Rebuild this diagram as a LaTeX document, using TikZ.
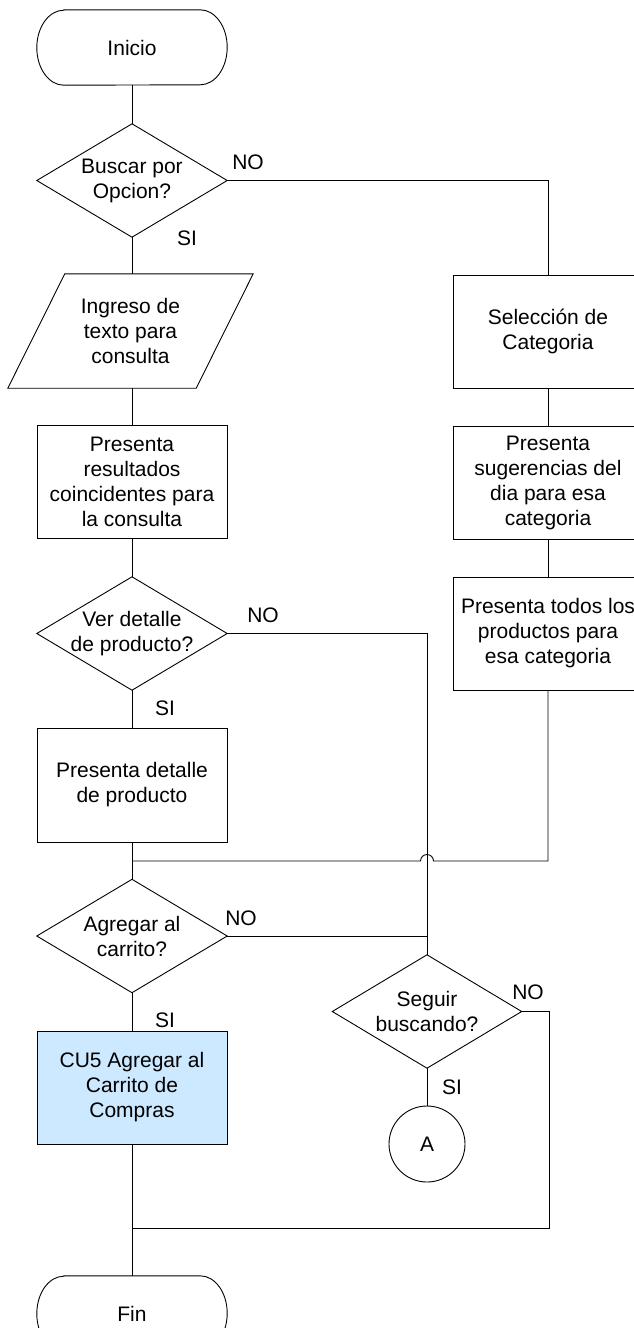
\documentclass[tikz,border=0pt]{standalone}
\usepackage{fontspec}
\setmainfont{Liberation Sans}
\definecolor{cublue}{RGB}{204,233,255}
\begin{document}
\begin{tikzpicture}[x=1pt,y=-1pt,
  every node/.style={font=\fontsize{21}{25}\selectfont},
  proc/.style={draw, line width=0.9pt, minimum width=190pt, minimum height=113pt, inner sep=2pt, align=center},
  decis/.style={minimum width=190pt, minimum height=113pt, inner sep=0pt, align=center},
  term/.style={minimum width=190pt, minimum height=75pt, inner sep=0pt},
  lab/.style={inner sep=0pt},
  line/.style={draw, line width=0.9pt}
]
\useasboundingbox (0,0) rectangle (633,1328);

% left column
\node[term] (ini) at (132,47.5) {Inicio};
\node[decis] (d1) at (132,180.5) {Buscar por\\Opcion?};
\node[decis, minimum width=245pt, minimum height=114pt] (ing) at (130.5,331) {Ingreso de\\texto para\\consulta};
\node[proc] (res) at (132,482) {Presenta\\resultados\\coincidentes para\\la consulta};
\node[decis] (d2) at (132,633.5) {Ver detalle\\de producto?};
\node[proc, minimum height=114pt] (det) at (132,785) {Presenta detalle\\de producto};
\node[decis] (d3) at (132,936) {Agregar al\\carrito?};
\node[proc, fill=cublue] (cu5) at (132,1087.5) {CU5 Agregar al\\Carrito de\\Compras};
\node[term] (fin) at (132,1313.5) {Fin};

% right column
\node[proc] (sel) at (548,331.5) {Selección de\\Categoria};
\node[proc] (sug) at (548,482.5) {Presenta\\sugerencias del\\dia para esa\\categoria};
\node[proc] (tod) at (548,633.5) {Presenta todos los\\productos para\\esa categoria};
\node[decis, minimum width=189pt] (d4) at (427,1011.5) {Seguir\\buscando?};
\node[draw, line width=0.9pt, circle, minimum size=76pt, inner sep=0pt] (a) at (427,1144) {A};

% outlines of terminators, decisions and the input
\foreach \n in {ini,fin}
  \draw[line] ([xshift=27pt]\n.north west) -- ([xshift=-27pt]\n.north east)
    arc[start angle=90,end angle=-90,x radius=27pt,y radius=37.5pt]
    -- ([xshift=27pt]\n.south west)
    arc[start angle=270,end angle=90,x radius=27pt,y radius=37.5pt] -- cycle;
\foreach \n in {d1,d2,d3,d4}
  \draw[line] (\n.north) -- (\n.east) -- (\n.south) -- (\n.west) -- cycle;
\draw[line] ([xshift=57pt]ing.north west) -- (ing.north east)
  -- ([xshift=-57pt]ing.south east) -- (ing.south west) -- cycle;

% junctions
\coordinate (j1) at (132,861);
\coordinate (hop) at (427,861);
\coordinate (j2) at (132,1228);

% main flow
\draw[line] (ini.south) -- (d1.north);
\draw[line] (d1.south) -- (d1.south |- ing.north);
\draw[line] (d1.south |- ing.south) -- (res.north);
\draw[line] (res.south) -- (d2.north);
\draw[line] (d2.south) -- (det.north);
\draw[line] (det.south) -- (d3.north);
\draw[line] (d3.south) -- (cu5.north);
\draw[line] (cu5.south) -- (fin.north);

% search by category
\draw[line] (d1.east) -| (sel.north);
\draw[line] (sel.south) -- (sug.north);
\draw[line] (sug.south) -- (tod.north);
\draw[line] (tod.south) |- ([xshift=6.5pt]hop)
  arc[start angle=0,end angle=180,radius=6.5pt] -- (j1);

% "no" branches to continue searching
\draw[line] (d2.east) -| (d4.north);
\draw[line] (d3.east) -- (d3.east -| d4.north);
\draw[line] (d4.south) -- (a.north);
\draw[line] (d4.east) -- ++(28,0) |- (j2);

% branch labels
\node[lab] (no1) at (248,162) {NO};
\node[lab] (si1) at (187,238) {SI};
\node[lab] (no2) at (263,615) {NO};
\node[lab] (si2) at (165,708) {SI};
\node[lab] (no3) at (241,918) {NO};
\node[lab] (si3) at (165,1020) {SI};
\node[lab] (no4) at (528,992) {NO};
\node[lab] (si4) at (452,1087) {SI};
\end{tikzpicture}
\end{document}
